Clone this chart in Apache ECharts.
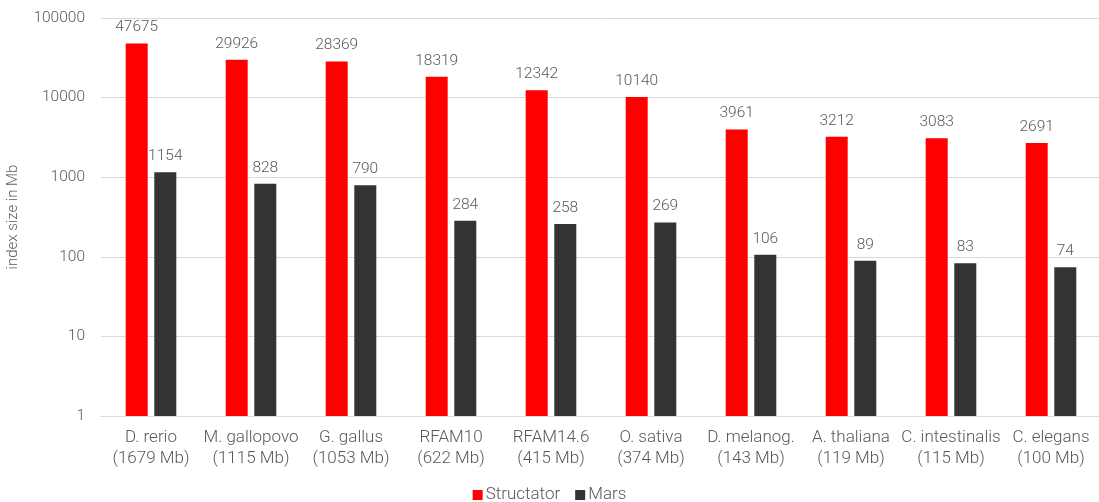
<!DOCTYPE html>
<html>
<head>
<meta charset="utf-8">
<script src="https://cdn.jsdelivr.net/npm/echarts@6/dist/echarts.min.js"></script>
<style>
  html, body { margin: 0; padding: 0; background: #fff; }
  #chart { width: 1099px; height: 502px; }
</style>
</head>
<body>
<div id="chart"></div>
<script>
// Index sizes per dataset (log scale)
const categories = [
  'D. rerio\n(1679 Mb)', 'M. gallopovo\n(1115 Mb)', 'G. gallus\n(1053 Mb)',
  'RFAM10\n(622 Mb)', 'RFAM14.6\n(415 Mb)', 'O. sativa\n(374 Mb)',
  'D. melanog.\n(143 Mb)', 'A. thaliana\n(119 Mb)', 'C. intestinalis\n(115 Mb)',
  'C. elegans\n(100 Mb)'
];
const structator = [47675, 29926, 28369, 18319, 12342, 10140, 3961, 3212, 3083, 2691];
const mars = [1154, 828, 790, 284, 258, 269, 106, 89, 83, 74];

const FONT = 'Roboto, sans-serif';
const TEXT = '#595959';
const W = 300;

const chart = echarts.init(document.getElementById('chart'));
chart.setOption({
  animation: false,
  textStyle: { fontFamily: FONT },
  grid: { left: 101, top: 18, width: 1000, height: 398, containLabel: false, outerBoundsMode: 'none' },
  legend: {
    top: 486,
    left: 'center',
    padding: 0,
    itemWidth: 10,
    itemHeight: 10,
    itemGap: 15,
    icon: 'rect',
    textStyle: { color: TEXT, fontSize: 17, lineHeight: 18, fontWeight: W, fontFamily: FONT, padding: [0, 0, 0, -2] },
    data: ['Structator', 'Mars']
  },
  xAxis: {
    type: 'category',
    data: categories,
    axisLine: { lineStyle: { color: '#d9d9d9', width: 1 } },
    axisTick: { show: false },
    axisLabel: { color: TEXT, fontSize: 17, fontWeight: W, lineHeight: 21, margin: 11, interval: 0, fontFamily: FONT }
  },
  yAxis: {
    type: 'log',
    logBase: 10,
    min: 1,
    max: 100000,
    name: 'index size in Mb',
    nameLocation: 'middle',
    nameGap: 80,
    nameTextStyle: { color: TEXT, fontSize: 15, fontWeight: W, fontFamily: FONT },
    axisLine: { show: false },
    axisTick: { show: false },
    axisLabel: { color: TEXT, fontSize: 15.5, fontWeight: W, margin: 16, fontFamily: FONT, formatter: v => String(Math.round(v)) },
    splitLine: { lineStyle: { color: '#d9d9d9', width: 1 } }
  },
  series: [
    {
      name: 'Structator',
      type: 'bar',
      data: structator,
      barWidth: 22,
      barGap: '30%',
      itemStyle: { color: '#ff0000' },
      label: { show: true, position: 'top', distance: 8, color: TEXT, fontSize: 15.5, fontWeight: W, fontFamily: FONT }
    },
    {
      name: 'Mars',
      type: 'bar',
      data: mars,
      barWidth: 22,
      barGap: '30%',
      itemStyle: { color: '#333333' },
      label: { show: true, position: 'top', distance: 8, color: TEXT, fontSize: 15.5, fontWeight: W, fontFamily: FONT }
    }
  ]
});
</script>
</body>
</html>
